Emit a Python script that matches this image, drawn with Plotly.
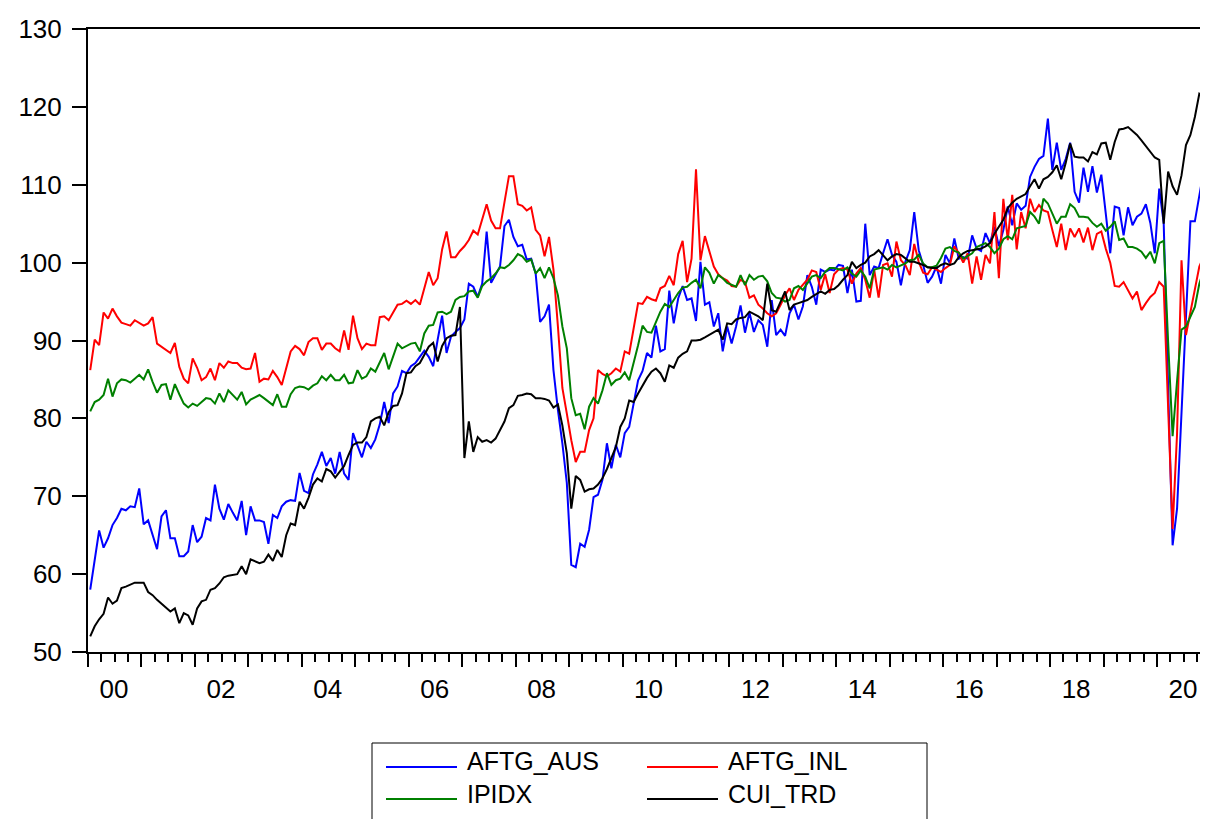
import plotly.graph_objects as go

# ---------------- data (monthly, 2000M01 .. 2020M12) ----------------
start_year = 2000
series_names = ["AFTG_AUS", "AFTG_INL", "IPIDX", "CUI_TRD"]
series_colors = ["#0000FF", "#FF0000", "#008000", "#000000"]

aftg_aus = [
    58.0, 61.8, 65.6, 63.4, 64.6, 66.3, 67.2, 68.4, 68.2, 68.7,
    68.6, 71.0, 66.4, 66.9, 65.0, 63.2, 67.4, 68.2, 64.6, 64.6,
    62.3, 62.3, 62.9, 66.3, 64.1, 64.8, 67.2, 66.9, 71.5, 68.4,
    67.0, 69.0, 67.9, 66.9, 69.4, 65.0, 68.7, 66.9, 66.9, 66.7,
    63.9, 67.6, 67.2, 68.7, 69.3, 69.5, 69.4, 73.0, 70.7, 70.4,
    72.8, 74.1, 75.7, 73.9, 74.9, 72.9, 75.7, 72.9, 72.1, 78.1,
    76.5, 75.0, 77.0, 76.2, 77.3, 79.2, 82.1, 79.4, 83.2, 84.1,
    86.1, 85.8, 86.7, 87.1, 87.9, 88.7, 87.9, 86.7, 90.1, 93.2,
    88.4, 90.5, 91.1, 91.6, 92.7, 97.3, 96.9, 95.6, 97.3, 104.0,
    97.4, 98.4, 99.5, 104.7, 105.5, 103.3, 102.1, 102.3, 100.4, 100.5,
    98.6, 92.4, 93.1, 94.6, 86.2, 81.1, 76.8, 71.7, 61.2, 60.9,
    63.9, 63.5, 65.7, 69.9, 70.2, 72.1, 76.8, 73.6, 76.6, 75.0,
    78.1, 78.9, 82.1, 84.9, 86.1, 88.4, 87.8, 91.9, 88.6, 88.9,
    96.4, 92.2, 95.4, 97.0, 95.2, 95.4, 92.5, 100.1, 94.6, 94.9,
    91.8, 93.5, 88.6, 91.8, 89.6, 91.8, 94.5, 91.0, 93.6, 91.1,
    92.6, 92.0, 89.2, 95.2, 90.7, 91.4, 90.6, 93.5, 94.6, 92.7,
    94.4, 98.4, 96.9, 94.6, 99.1, 98.8, 99.1, 99.0, 99.7, 99.6,
    96.1, 99.1, 95.0, 95.1, 105.0, 98.4, 99.5, 99.3, 101.2, 103.0,
    101.0, 100.1, 97.1, 100.1, 101.6, 106.5, 101.6, 99.7, 97.4, 98.2,
    99.5, 97.3, 101.0, 99.9, 103.1, 100.5, 100.7, 100.5, 103.5, 101.8,
    101.5, 103.8, 102.5, 104.6, 102.1, 104.2, 107.2, 104.8, 107.6, 106.8,
    107.3, 111.0, 112.3, 113.3, 113.7, 118.5, 111.9, 115.4, 111.9, 113.3,
    115.4, 109.1, 107.7, 112.2, 109.1, 112.4, 109.0, 111.3, 106.3, 101.2,
    107.2, 107.0, 103.5, 107.1, 104.8, 105.9, 106.3, 107.5, 105.1, 101.2,
    109.5, 105.1, 84.0, 63.7, 68.4, 80.7, 93.0, 105.3, 105.3, 108.5,
    111.9, 110.6,
]

aftg_inl = [
    86.2, 90.1, 89.4, 93.6, 92.8, 94.1, 93.1, 92.3, 92.1, 91.9,
    92.6, 92.2, 91.9, 92.2, 93.0, 89.6, 89.2, 88.9, 88.4, 89.7,
    86.6, 85.1, 84.5, 87.7, 86.5, 84.9, 85.3, 86.4, 84.9, 87.1,
    86.5, 87.3, 87.1, 87.1, 86.5, 86.3, 86.4, 88.4, 84.7, 85.1,
    85.0, 86.1, 85.3, 84.3, 86.4, 88.6, 89.3, 88.9, 88.1, 89.8,
    90.3, 90.3, 88.8, 89.6, 89.6, 89.0, 88.6, 91.3, 88.8, 93.2,
    90.3, 88.9, 89.6, 89.4, 89.4, 93.0, 93.1, 92.6, 93.6, 94.6,
    94.7, 95.1, 94.7, 95.2, 94.6, 96.6, 98.8, 97.1, 98.0, 101.7,
    104.0, 100.7, 100.7, 101.5, 102.1, 102.9, 104.1, 103.6, 105.7, 107.5,
    105.4, 104.4, 104.4, 107.6, 111.1, 111.1, 107.5, 107.3, 106.7, 107.1,
    104.2, 103.5, 100.8, 103.3, 99.1, 91.8, 83.9, 80.6, 77.2, 74.4,
    75.7, 75.7, 78.5, 80.0, 86.2, 85.7, 85.4, 85.8, 86.4, 86.0,
    88.6, 88.3, 91.3, 94.8, 94.7, 95.6, 95.3, 95.1, 96.7, 97.0,
    98.3, 97.1, 101.1, 102.8, 97.5, 100.5, 112.0, 100.3, 103.4, 101.6,
    99.5, 98.5, 98.0, 97.7, 97.0, 96.9, 97.8, 97.5, 95.5, 95.8,
    94.6, 94.1, 93.5, 93.1, 93.5, 94.6, 95.8, 96.7, 95.2, 96.5,
    97.1, 97.8, 99.0, 98.8, 96.5, 98.5, 96.1, 98.5, 99.1, 99.3,
    99.1, 97.3, 98.6, 99.3, 97.8, 95.5, 99.1, 95.5, 99.7, 99.9,
    98.2, 102.7, 100.3, 99.7, 98.4, 102.4, 100.1, 98.7, 98.5, 99.4,
    99.1, 98.8, 99.3, 99.7, 102.1, 101.2, 100.0, 101.2, 97.3, 100.8,
    97.8, 101.0, 99.9, 106.5, 98.0, 108.2, 102.9, 108.7, 101.7, 106.5,
    104.4, 108.2, 106.5, 107.4, 106.7, 106.5, 104.2, 102.0, 105.0, 101.6,
    104.4, 103.3, 104.4, 102.6, 104.5, 101.6, 103.7, 104.0, 101.8, 100.0,
    97.0, 96.9, 97.5, 96.5, 95.4, 96.3, 93.9, 94.8, 95.6, 96.1,
    97.5, 96.9, 81.0, 65.8, 78.0, 100.3, 90.7, 93.5, 96.5, 99.5,
    100.8, 100.1,
]

ipidx = [
    80.9, 82.1, 82.4, 83.0, 85.1, 82.8, 84.5, 85.0, 84.9, 84.6,
    85.1, 85.6, 85.0, 86.3, 84.7, 83.3, 84.3, 84.4, 82.4, 84.4,
    83.1, 81.9, 81.4, 81.9, 81.6, 82.1, 82.6, 82.5, 81.9, 83.2,
    82.1, 83.6, 83.0, 82.4, 83.4, 81.8, 82.4, 82.7, 83.0, 82.6,
    82.1, 81.7, 83.1, 81.5, 81.5, 83.1, 83.9, 84.1, 84.0, 83.7,
    84.2, 84.5, 85.4, 84.9, 85.6, 84.9, 84.9, 85.6, 84.5, 84.6,
    86.2, 85.1, 85.4, 86.4, 86.0, 87.2, 88.4, 86.3, 87.9, 89.6,
    89.0, 89.3, 89.6, 89.7, 88.6, 90.9, 91.9, 92.0, 93.6, 93.7,
    93.4, 93.7, 95.2, 95.6, 95.7, 96.3, 96.4, 95.5, 97.0, 97.6,
    98.0, 98.6, 99.4, 99.3, 99.7, 100.3, 101.1, 100.8, 100.1, 100.4,
    98.6, 99.3, 98.0, 99.4, 98.0, 95.8, 91.8, 89.0, 82.6, 80.4,
    80.6, 78.6, 81.5, 82.6, 81.9, 83.6, 85.8, 84.3, 84.9, 85.1,
    85.9, 84.9, 87.1, 89.4, 91.9, 91.1, 91.0, 92.3, 93.7, 94.7,
    94.3, 95.2, 96.1, 96.8, 96.9, 97.4, 97.8, 96.7, 99.4, 98.7,
    97.3, 98.4, 98.0, 97.4, 97.1, 96.9, 98.4, 97.1, 98.4, 97.8,
    98.2, 98.3, 97.6, 96.1, 95.5, 95.4, 95.0, 95.2, 96.7, 97.0,
    96.5, 97.3, 98.2, 98.4, 98.0, 98.8, 99.3, 99.3, 99.1, 99.0,
    99.4, 98.6, 98.2, 99.0, 98.2, 96.7, 99.1, 99.3, 99.4, 99.1,
    99.7, 99.4, 99.6, 99.9, 100.3, 100.4, 101.0, 99.9, 99.4, 99.4,
    99.6, 100.6, 101.8, 102.0, 101.5, 101.3, 100.5, 100.9, 101.2, 102.0,
    102.3, 102.5, 102.0, 101.2, 101.8, 103.0, 103.4, 103.0, 104.4, 104.6,
    104.7, 106.5, 105.9, 105.0, 108.2, 107.6, 106.3, 105.0, 105.9, 105.9,
    107.5, 107.0, 105.9, 105.9, 105.8, 105.1, 104.6, 105.0, 104.1, 104.6,
    105.3, 102.9, 103.1, 102.0, 102.0, 101.8, 101.4, 100.6, 101.4, 99.9,
    102.5, 102.8, 89.8, 77.7, 84.8, 91.4, 91.8, 93.0, 94.3, 97.3,
    99.1, 99.3,
]

cui_trd = [
    52.0, 53.3, 54.2, 54.9, 57.0, 56.2, 56.6, 58.2, 58.4, 58.7,
    58.9, 58.9, 58.9, 57.7, 57.3, 56.7, 56.2, 55.8, 55.2, 55.6,
    53.7, 55.0, 54.7, 53.5, 55.6, 56.5, 56.7, 58.0, 58.2, 58.8,
    59.6, 59.8, 59.9, 60.0, 61.0, 60.0, 61.9, 61.6, 61.4, 61.6,
    62.5, 61.7, 63.1, 62.2, 65.0, 66.5, 66.3, 69.3, 68.4, 69.8,
    71.5, 72.3, 71.9, 73.5, 73.2, 72.4, 73.2, 73.9, 75.3, 76.6,
    76.9, 76.9, 77.6, 79.6, 80.0, 80.2, 79.1, 80.8, 81.6, 81.7,
    83.2, 85.8, 85.9, 86.7, 87.1, 88.1, 89.2, 89.7, 87.3, 89.3,
    90.3, 90.6, 90.7, 94.3, 74.9, 79.6, 75.7, 77.6, 77.0, 77.2,
    76.9, 77.4, 78.5, 79.6, 81.3, 81.7, 82.9, 83.0, 83.2, 83.1,
    82.6, 82.6, 82.5, 82.3, 81.4, 81.8, 79.1, 75.5, 68.4, 72.6,
    72.1, 70.6, 70.9, 71.0, 71.5, 72.3, 73.5, 75.0, 76.3, 78.9,
    80.0, 82.3, 82.1, 83.2, 84.2, 85.2, 86.0, 86.4, 85.8, 84.7,
    86.8, 86.5, 87.8, 88.3, 88.6, 90.0, 90.0, 90.1, 90.4, 90.7,
    91.0, 91.4, 90.1, 92.2, 92.1, 92.7, 92.9, 93.0, 93.7, 93.4,
    93.1, 92.6, 97.3, 93.9, 93.7, 95.0, 96.3, 93.9, 94.6, 94.8,
    95.0, 95.2, 95.6, 96.0, 96.3, 96.0, 96.5, 96.6, 97.1, 97.8,
    98.4, 100.1, 99.3, 99.7, 100.0, 100.8, 101.1, 101.6, 101.0, 100.3,
    100.8, 101.1, 101.0, 100.5, 100.1, 100.1, 99.9, 99.7, 99.4, 99.3,
    99.3, 99.7, 99.9, 99.7, 99.9, 100.7, 101.2, 101.5, 101.6, 101.7,
    101.8, 102.1, 102.5, 103.7, 104.6, 105.5, 107.0, 107.7, 108.2, 108.5,
    108.8, 109.8, 110.7, 109.5, 110.7, 111.0, 111.6, 112.5, 110.7, 112.8,
    115.3, 113.6, 113.5, 113.5, 113.0, 114.2, 113.9, 115.3, 115.4, 113.2,
    115.5, 117.1, 117.2, 117.4, 116.9, 116.4, 115.7, 115.0, 114.2, 113.5,
    113.2, 105.0, 111.7, 109.8, 108.7, 111.2, 115.1, 116.4, 118.7, 121.7,
    121.3, 119.2,
]

year_labels = ["00", "02", "04", "06", "08", "10", "12", "14", "16", "18", "20"]
y_ticks = [50, 60, 70, 80, 90, 100, 110, 120, 130]

# ---------------- figure ----------------
n = len(cui_trd)
x_pos = [start_year + (i + 0.5) / 12.0 for i in range(n)]  # monthly period centres

FONT = "Liberation Sans, Arial, Helvetica, sans-serif"
fig = go.Figure()
all_series = [aftg_aus, aftg_inl, ipidx, cui_trd]
for name, col, vals in zip(series_names, series_colors, all_series):
    fig.add_trace(go.Scatter(x=x_pos, y=vals, mode="lines", name=name,
                             line=dict(color=col, width=2), showlegend=False))

years = list(range(start_year, start_year + 21))
tick_text = []
for yr in years:
    lab = f"{yr % 100:02d}"
    tick_text.append(lab if lab in year_labels else "")

# the page body has an 8 px margin: the figure sits at (8, 8) on screen
OFF = 8
W, H = 1208 - OFF, 819 - OFF
L, R, T, B = 88 - OFF, 0, 29 - OFF, H - (652 - OFF)
pw = W - L - R
ph = H - T - B

fig.update_layout(
    width=W, height=H,
    margin=dict(l=L, r=R, t=T, b=B, pad=0, autoexpand=False),
    paper_bgcolor="white", plot_bgcolor="white",
    font=dict(family=FONT, color="black"),
    xaxis=dict(range=[start_year, start_year + 20.954], showgrid=False, zeroline=False,
               automargin=False,
               showline=True, linecolor="black", linewidth=2, mirror=True,
               tickmode="array", tickvals=years, ticktext=tick_text,
               ticks="outside", ticklen=13, tickwidth=1.5, tickcolor="black",
               ticklabelshift=26, ticklabelstandoff=0,
               tickfont=dict(size=26, family=FONT, color="black")),
    yaxis=dict(range=[50, 130], showgrid=False, zeroline=False,
               automargin=False,
               showline=True, linecolor="black", linewidth=2, mirror=False,
               tickmode="array", tickvals=y_ticks,
               ticks="outside", ticklen=14, tickwidth=1.5, tickcolor="black",
               ticklabelstandoff=5,
               tickfont=dict(size=26, family=FONT, color="black")),
    showlegend=False,
)
fig.update_xaxes(minor=dict(tick0=start_year, dtick=0.25, ticks="outside", ticklen=8,
                            tickwidth=1.5, tickcolor="black", showgrid=False))

def px_x(px):
    return (px - OFF - L) / pw

def px_y(py):
    return (H - B - (py - OFF)) / ph

# legend box (screen pixel positions converted to paper coordinates)
fig.add_shape(type="rect", xref="paper", yref="paper",
              x0=px_x(372), x1=px_x(927), y0=px_y(835), y1=px_y(743),
              line=dict(color="black", width=1), fillcolor="white", layer="above")

legend_pos = [(386, 457, 467, 767, 761), (647, 718, 728, 767, 761),
              (386, 457, 467, 799, 794), (647, 718, 728, 799, 794)]
for (name, col), (lx0, lx1, tx, ly, ty) in zip(zip(series_names, series_colors), legend_pos):
    fig.add_shape(type="line", xref="paper", yref="paper",
                  x0=px_x(lx0), x1=px_x(lx1), y0=px_y(ly), y1=px_y(ly),
                  line=dict(color=col, width=2), layer="above")
    fig.add_annotation(xref="paper", yref="paper", x=px_x(tx - 2), y=px_y(ty),
                       text=name, showarrow=False, xanchor="left", yanchor="middle",
                       font=dict(size=25, family=FONT, color="black"))

fig.write_html("out.html")
